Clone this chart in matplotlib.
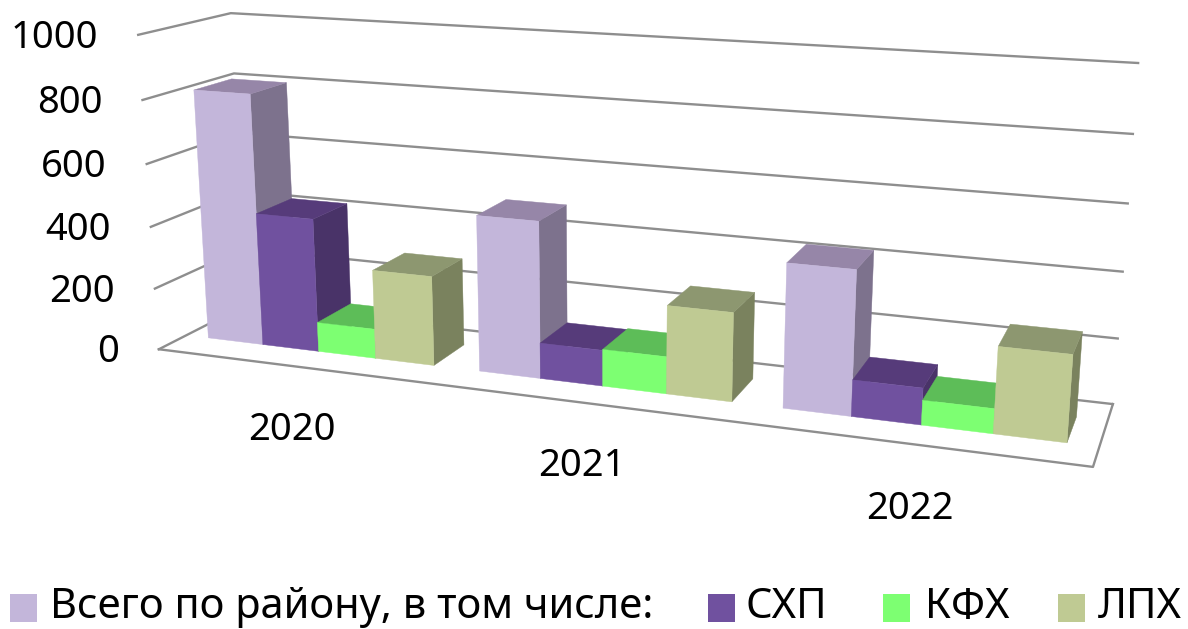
#!/usr/bin/env python3
"""
3D-look clustered bars (Excel style), drawn with a hand made perspective on plain axes
"""

import matplotlib
matplotlib.use('Agg')
import matplotlib.pyplot as plt
import numpy as np
from matplotlib.patches import Polygon, Rectangle

plt.rcParams['font.family'] = ['Noto Sans', 'DejaVu Sans']

years = ['2020', '2021', '2022']
series_names = ['Всего по району, в том числе:', 'СХП', 'КФХ', 'ЛПХ']
total_values = [810, 490, 435]
shp_values = [430, 112, 110]
kfh_values = [95, 115, 74]
lph_values = [285, 272, 255]
y_ticks = [0, 200, 400, 600, 800, 1000]

series_values = [total_values, shp_values, kfh_values, lph_values]

# front, top, side colours per series
front_colors = ['#C3B6DA', '#70519F', '#7DFF72', '#BFCA93']
top_colors = ['#9686A8', '#563B7A', '#5DBD58', '#8D9770']
side_colors = ['#7D728D', '#493368', '#4F9F4A', '#7A825E']
line_color = '#8E8E8E'

# where the corners of the chart box land on the picture: (category, depth, value/1000) -> pixel
box_corners = [
    ((0, 0, 0), (160, 349)),
    ((0, 0, 1), (137, 35)),
    ((0, 1, 0), (245, 305)),
    ((0, 1, 1), (232, 13)),
    ((3, 1, 0), (1113, 404)),
    ((3, 1, 1), (1138, 63)),
    ((3, 0, 0), (1093, 467)),
]

# fit a projective camera to the corners
rows = []
for (cx, cy, cz), (px, py) in box_corners:
    rows.append([cx, cy, cz, 1, 0, 0, 0, 0, -px*cx, -px*cy, -px*cz, -px])
    rows.append([0, 0, 0, 0, cx, cy, cz, 1, -py*cx, -py*cy, -py*cz, -py])
camera = np.linalg.svd(np.array(rows, dtype=float))[2][-1].reshape(3, 4)


def project(cat, depth, value):
    h = camera @ np.array([cat, depth, value / 1000.0, 1.0])
    return h[0] / h[2], h[1] / h[2]


fig = plt.figure(figsize=(11.88, 6.29), dpi=100)
ax = fig.add_axes([0, 0, 1, 1])
ax.set_xlim(0, 1188)
ax.set_ylim(629, 0)
ax.axis('off')

# walls: gridlines on left and back wall
for tick in y_ticks:
    a = project(0, 0, tick)
    b = project(0, 1, tick)
    c = project(3, 1, tick)
    ax.plot([a[0], b[0], c[0]], [a[1], b[1], c[1]], color=line_color, lw=1.7, zorder=1)
    ax.text(a[0] - 40, a[1] + 3, str(tick), fontsize=27.5, ha='right', va='center', color='black')

# floor outline
floor = [project(0, 0, 0), project(3, 0, 0), project(3, 1, 0)]
ax.plot([p[0] for p in floor], [p[1] for p in floor], color=line_color, lw=1.7, zorder=1)

# bars
bar_w = 1 / 4.79
margin = 0.085
pitch = 0.995
depth0, depth1 = 0.30, 0.72
z = 2
for c in range(len(years)):
    for s, vals in enumerate(series_values):
        x0 = c * pitch + margin + s * bar_w
        x1 = x0 + bar_w
        v = vals[c]
        side = [project(x1, depth0, 0), project(x1, depth1, 0), project(x1, depth1, v), project(x1, depth0, v)]
        top = [project(x0, depth0, v), project(x1, depth0, v), project(x1, depth1, v), project(x0, depth1, v)]
        front = [project(x0, depth0, 0), project(x1, depth0, 0), project(x1, depth0, v), project(x0, depth0, v)]
        for pts, col in [(side, side_colors[s]), (top, top_colors[s]), (front, front_colors[s])]:
            ax.add_patch(Polygon(pts, closed=True, facecolor=col, edgecolor=col, lw=0.3, zorder=z))
            z += 1

# category labels
year_pos = [(292, 430), (582, 466), (910, 509)]
for label, (tx, ty) in zip(years, year_pos):
    ax.text(tx, ty, label, fontsize=27.5, ha='center', va='center', color='black')

# legend
legend_boxes = [10, 708, 883, 1058]
legend_text = [50, 745, 925, 1098]
for name, bx, tx, col in zip(series_names, legend_boxes, legend_text, front_colors):
    ax.add_patch(Rectangle((bx, 594), 27, 28, facecolor=col, edgecolor='none'))
    ax.text(tx, 607, name, fontsize=30, ha='left', va='center', color='black')

plt.savefig('out.png', dpi=100)
plt.close()
